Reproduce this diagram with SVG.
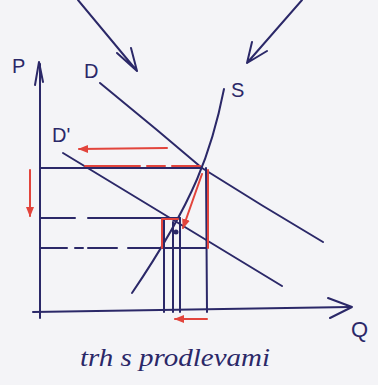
<svg xmlns="http://www.w3.org/2000/svg" width="378" height="385" viewBox="0 0 378 385">
<style>
.ink{fill:none;stroke:#2b2868;stroke-width:2;stroke-linecap:round;stroke-linejoin:round}
.red{fill:none;stroke:#e2443c;stroke-width:2;stroke-linecap:round;stroke-linejoin:round}
.lbl{font-family:"Liberation Sans",Arial,sans-serif;fill:#2b2868}
.cap{font-family:"Liberation Serif","Times New Roman",serif;font-style:italic;fill:#2b2868}
</style>
<defs>
<marker id="rh" viewBox="0 0 10 10" refX="9" refY="5" markerWidth="5" markerHeight="5" orient="auto" markerUnits="strokeWidth">
<path d="M0,1 L10,5 L0,9 Z" fill="#e2443c"/>
</marker>
</defs>
<rect width="378" height="385" fill="#f4f4f7"/>
<g id="axes">
<path class="ink" d="M40,64 L40,318"/>
<path class="ink" d="M35,85 L39,62 L43,82"/>
<path class="ink" d="M33,312 L350,307"/>
<path class="ink" d="M328,298 L352,307 L330,318"/>
<text class="lbl" x="12" y="73" font-size="20">P</text>
<text class="lbl" x="351" y="337" font-size="22">Q</text>
</g>
<g id="curve-D">
<path class="ink" d="M100,83 L157,130 L202,168 Q262,206 323,242"/>
<text class="lbl" x="84" y="78" font-size="20">D</text>
</g>
<g id="curve-D2">
<path class="ink" d="M63,153 L282,286"/>
<text class="lbl" x="52" y="142" font-size="20">D'</text>
</g>
<g id="curve-S">
<path class="ink" d="M224,89 C212,150 195,200 132,293"/>
<text class="lbl" x="231" y="97" font-size="20">S</text>
</g>
<g id="connectors">
<path class="ink" d="M78,0 L137,71 M117,53 L137,71 L131,48"/>
<path class="ink" d="M302,0 L247,63 M252,42 L247,63 L267,51"/>
<path class="ink" d="M40,168 L202,168"/>
<path class="red" d="M85,166 L140,166 M147,166 L165,166 M172,166 L200,166"/>
<path class="ink" d="M40,218 L75,218 M88,218 L180,218"/>
<path class="ink" d="M40,248 L67,248 M75,248 L83,248 M88,248 L117,248 M128,248 L206,248"/>
<path class="ink" d="M206,168 L207,312"/>
<path class="red" d="M208,170 L208,248"/>
<path class="ink" d="M164,218 L164,312 M173,222 L173,312 M180,218 L180,312"/>
<path class="red" d="M162,248 L162,219 L178,219"/>
<circle cx="176" cy="232" r="2.5" fill="#2b2868"/>
<path class="red" d="M167,148 L79,149" marker-end="url(#rh)"/>
<path class="red" d="M30,170 L30,216" marker-end="url(#rh)"/>
<path class="red" d="M202,174 L183,228" marker-end="url(#rh)"/>
<path class="red" d="M207,319 L175,319" marker-end="url(#rh)"/>
</g>
<text class="cap" x="80" y="366" font-size="26" textLength="190" lengthAdjust="spacingAndGlyphs">trh s prodlevami</text>
</svg>
